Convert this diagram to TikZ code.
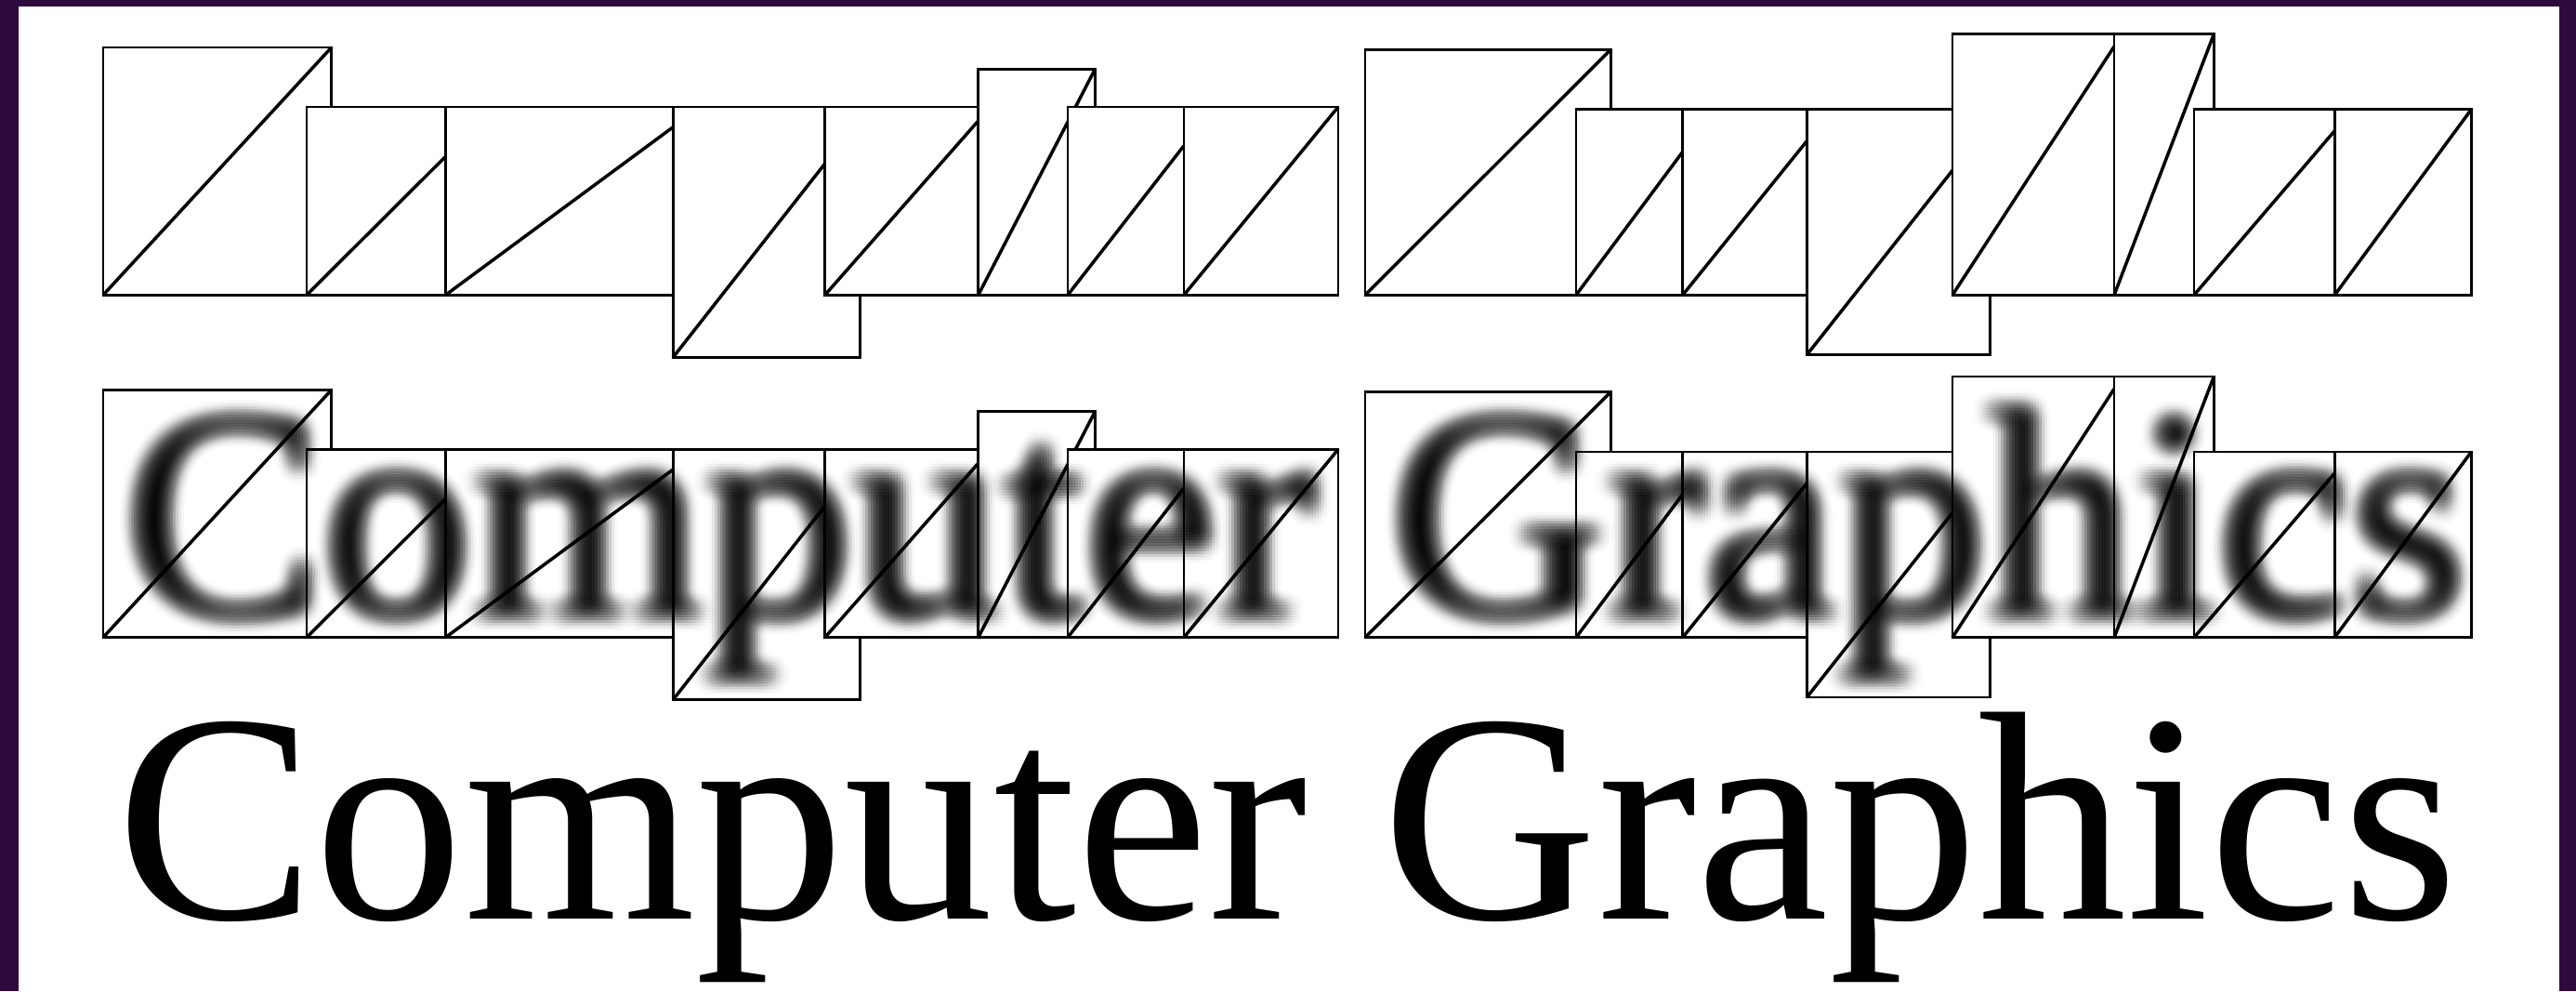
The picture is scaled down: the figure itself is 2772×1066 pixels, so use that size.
\documentclass[tikz,border=0pt]{standalone}
\usepackage{fontspec}
\setmainfont{Liberation Serif}
\definecolor{framecol}{RGB}{45,10,62}
\tikzset{
  boxline/.style={draw=black, line width=2.7pt, fill=white},
  diagline/.style={draw=black, line width=3.5pt},
  bigtext/.style={anchor=base west, inner sep=0pt, outer sep=0pt, font=\fontsize{320.6}{330}\selectfont},
  blurtext/.style={bigtext},
}
\newcommand\gb[6]{%
  \draw[boxline] (#1,#2) rectangle (#3,#4);
  \draw[diagline] (#1,#4) -- (#5,#6);
}
\newcommand\glyphrow{%
  \gb{111}{51}{356.7}{317.3}{356.7}{51}
  \gb{330}{115}{479.5}{317.3}{479.5}{168.3}
  \gb{479.5}{115}{724.3}{317.3}{724.3}{136.7}
  \gb{724.3}{115}{925.7}{384.3}{887.7}{176}
  \gb{887.7}{115}{1052.7}{317.3}{1052.7}{130}
  \gb{1052.7}{74.5}{1178.3}{317.3}{1178.3}{74.5}
  \gb{1149}{115}{1274}{317.3}{1274}{156.7}
  \gb{1274}{115}{1440}{317.3}{1440}{115}
  \gb{1469}{53.3}{1733.3}{317.3}{1733.3}{53.3}
  \gb{1696}{117.7}{1810.7}{317.3}{1810.7}{163.3}
  \gb{1810.7}{117.7}{1944.3}{317.3}{1944.3}{151.7}
  \gb{1944.3}{117.7}{2141.7}{381.7}{2101}{183.3}
  \gb{2101}{36.7}{2275}{317.3}{2275}{50}
  \gb{2275}{36.7}{2382.3}{317.3}{2382.3}{36.7}
  \gb{2361}{117.7}{2512.3}{317.3}{2512.3}{140.7}
  \gb{2512.3}{117.7}{2659.3}{317.3}{2659.3}{117.7}
}
\begin{document}
\begin{tikzpicture}[x=1pt, y=-1pt]
  \useasboundingbox (0,0) rectangle (2772,1066);
  \fill[framecol] (0,0) rectangle (2772,1066);
  \fill[white] (20,7) rectangle (2754,1066);
  % row 1: glyph boxes
  \glyphrow
  % row 2: glyph boxes with blurred text
  \begin{scope}[shift={(0,368.3)}]
    \glyphrow
  \end{scope}
  \foreach \dx in {-21,-18,...,21}{
    \foreach \dy in {-21,-18,...,21}{
      \pgfmathtruncatemacro{\dd}{\dx*\dx+\dy*\dy}
      \pgfmathtruncatemacro{\ix}{\dx+21}
      \pgfmathtruncatemacro{\iy}{\dy+21}
      \ifnum\dd<442
        \pgfmathsetmacro{\op}{0.0275*exp(-\dd/200)}
        \node[blurtext, opacity=\op] (blur\ix-\iy) at ({134+\dx},{661.3+\dy}) {Computer Graphics};
      \fi
    }
  }
  % row 3: sharp text
  \node[bigtext] (caption) at (125,988.3) {Computer Graphics};
\end{tikzpicture}
\end{document}
